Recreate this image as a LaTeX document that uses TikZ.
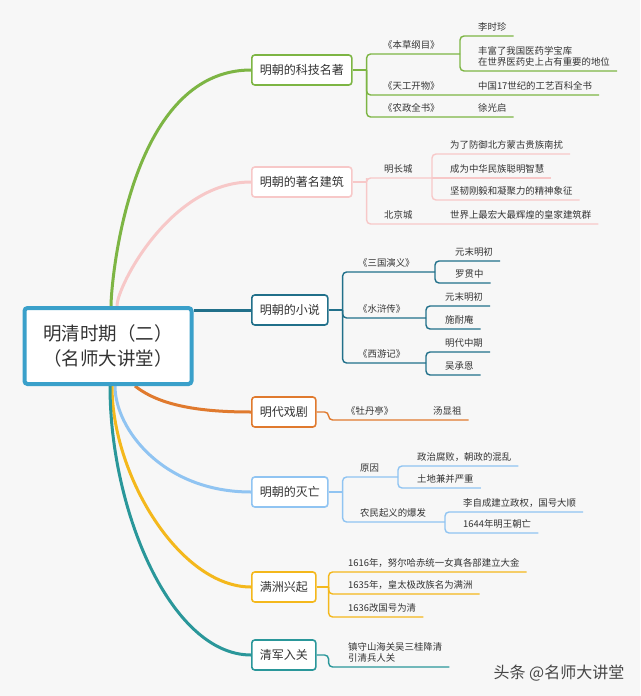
\documentclass[tikz,border=0pt]{standalone}
\usepackage{fontspec}
\setmainfont{Noto Sans CJK SC}
\usetikzlibrary{backgrounds}

\definecolor{bgc}{HTML}{F7F7F7}
\definecolor{txt}{HTML}{333333}
\definecolor{rootc}{HTML}{3AA0CA}
\definecolor{cgreen}{HTML}{7DB544}
\definecolor{cpink}{HTML}{F7C8C8}
\definecolor{cteal}{HTML}{21708A}
\definecolor{corange}{HTML}{E07A2E}
\definecolor{cblue}{HTML}{90C4F2}
\definecolor{cyellow}{HTML}{F4B81C}
\definecolor{ccyan}{HTML}{2A979A}

\begin{document}
\begin{tikzpicture}[
    x=1pt, y=-1pt,
    every node/.style={text=txt},
    root/.style={draw=rootc, line width=4pt, fill=white, rounded corners=3pt, align=center, minimum width=167pt, minimum height=76pt, font=\fontsize{18.5}{25}\selectfont},
    topic/.style={draw=#1, line width=1.6pt, fill=white, rounded corners=3pt, anchor=west, inner xsep=8pt, minimum height=30pt, font=\fontsize{12}{14}\selectfont},
    leaf/.style={anchor=south west, inner xsep=7pt, inner ysep=5pt, text depth=0pt, align=left, font=\fontsize{9.4}{11.5}\selectfont},
    branch/.style={draw=#1, line width=3pt},
    link/.style={draw=#1, line width=1.4pt, rounded corners=4pt}
  ]
    \node[root] (root) at (108,346) {明清时期（二）\\（名师大讲堂）};

    \node[topic=cgreen] (n1) at (251,70) {明朝的科技名著};
    \node[topic=cpink] (n2) at (251,182) {明朝的著名建筑};
    \node[topic=cteal] (n3) at (251,310) {明朝的小说};
    \node[topic=corange] (n4) at (251,412) {明代戏剧};
    \node[topic=cblue] (n5) at (251,492) {明朝的灭亡};
    \node[topic=cyellow] (n6) at (251,587) {满洲兴起};
    \node[topic=ccyan] (n7) at (251,655) {清军入关};

    % science books
    \coordinate (j1) at ([xshift=14pt]n1.east);
    \coordinate (k1) at (460,54);
    \node[leaf] (bc) at (376,54) {《本草纲目》};
    \node[leaf] (lsz) at (471,36) {李时珍};
    \node[leaf] (fz) at (471,71) {丰富了我国医药学宝库\\在世界医药史上占有重要的地位};
    \node[leaf] (tg) at (376,95) {《天工开物》};
    \node[leaf] (tgc) at (471,95) {中国17世纪的工艺百科全书};
    \node[leaf] (nz) at (376,117) {《农政全书》};
    \node[leaf] (xgq) at (471,117) {徐光启};

    % buildings
    \coordinate (j2) at ([xshift=14pt]n2.east);
    \coordinate (k2) at (432,178);
    \node[leaf] (mcc) at (377,178) {明长城};
    \node[leaf] (fy) at (443,154) {为了防御北方蒙古贵族南扰};
    \node[leaf] (cw) at (443,178) {成为中华民族聪明智慧};
    \node[leaf] (jr) at (443,200) {坚韧刚毅和凝聚力的精神象征};
    \node[leaf] (bjc) at (377,224) {北京城};
    \node[leaf] (hj) at (443,224) {世界上最宏大最辉煌的皇家建筑群};

    % novels
    \coordinate (j3) at ([xshift=14pt]n3.east);
    \coordinate (k3a) at (435,272);
    \coordinate (k3b) at (426,318);
    \coordinate (k3c) at (426,363);
    \node[leaf] (sg) at (351,272) {《三国演义》};
    \node[leaf] (ym1) at (448,261) {元末明初};
    \node[leaf] (lgz) at (448,283) {罗贯中};
    \node[leaf] (sh) at (351,318) {《水浒传》};
    \node[leaf] (ym2) at (438,306) {元末明初};
    \node[leaf] (sna) at (438,329) {施耐庵};
    \node[leaf] (xy) at (351,363) {《西游记》};
    \node[leaf] (mz) at (438,352) {明代中期};
    \node[leaf] (wce) at (438,375) {吴承恩};

    % drama
    \coordinate (j4) at ([xshift=12pt]n4.east);
    \node[leaf] (mdt) at (339,420) {《牡丹亭》};
    \node[leaf] (txz) at (426,420) {汤显祖};

    % fall
    \coordinate (j5) at ([xshift=14pt]n5.east);
    \coordinate (k5a) at (398,477);
    \coordinate (k5b) at (445,522);
    \node[leaf] (yy) at (353,477) {原因};
    \node[leaf] (zz) at (410,466) {政治腐败，朝政的混乱};
    \node[leaf] (td) at (410,488) {土地兼并严重};
    \node[leaf] (nm) at (353,522) {农民起义的爆发};
    \node[leaf] (lzc) at (456,512) {李自成建立政权，国号大顺};
    \node[leaf] (mw) at (456,533) {1644年明王朝亡};

    % manchu
    \coordinate (j6) at ([xshift=12pt]n6.east);
    \node[leaf] (e1) at (341,572) {1616年，努尔哈赤统一女真各部建立大金};
    \node[leaf] (e2) at (341,594) {1635年，皇太极改族名为满洲};
    \node[leaf] (e3) at (341,617) {1636改国号为清};

    % qing army
    \coordinate (j7) at ([xshift=12pt]n7.east);
    \node[leaf] (qj) at (341,667) {镇守山海关吴三桂降清\\引清兵人关};

    \node[font=\fontsize{16}{18}\selectfont, text=black!72] (wm) at (559,673) {头条 @名师大讲堂};

    \begin{scope}[on background layer]
      \fill[bgc] (0,0) rectangle (640,696);
      \draw[branch=cgreen] ([xshift=3pt]root.north) .. controls +(0,-21) and +(-123,0) .. (n1.west);
      \draw[branch=cpink] ([xshift=9pt]root.north) .. controls +(0,-20) and +(-80,0) .. (n2.west);
      \draw[branch=cteal] (root.east |- n3.west) -- (n3.west);
      \draw[branch=corange] ([xshift=27pt]root.south) .. controls +(25,20) and +(-50,0) .. (n4.west);
      \draw[branch=cblue] ([xshift=7pt]root.south) .. controls +(0,43) and +(-88,0) .. (n5.west);
      \draw[branch=cyellow] ([xshift=4pt]root.south) .. controls +(0,90) and +(-71,0) .. (n6.west);
      \draw[branch=ccyan] ([xshift=2pt]root.south) .. controls +(0,125) and +(-80,0) .. (n7.west);
    \end{scope}

    \draw[link=cgreen] (n1.east) -- (j1);
    \draw[link=cgreen] (k1) -| (j1) |- (xgq.south east);
    \draw[link=cgreen] (j1) |- (tgc.south east);
    \draw[link=cgreen] (lsz.south east) -| (k1) |- (fz.south east);

    \draw[link=cpink] (n2.east) -- (j2);
    \draw[link=cpink] (k2) -| (j2) |- (hj.south east);
    \draw[link=cpink] (fy.south east) -| (k2) |- (jr.south east);
    \draw[link=cpink] (k2) -- (cw.south east);

    \draw[link=cteal] (n3.east) -- (j3);
    \draw[link=cteal] (k3a) -| (j3) |- (k3c);
    \draw[link=cteal] (j3) |- (k3b);
    \draw[link=cteal] (ym1.south east) -| (k3a) |- (lgz.south east);
    \draw[link=cteal] (ym2.south east) -| (k3b) |- (sna.south east);
    \draw[link=cteal] (mz.south east) -| (k3c) |- (wce.south east);

    \draw[link=corange] (n4.east) -- (j4) |- (txz.south east);

    \draw[link=cblue] (n5.east) -- (j5);
    \draw[link=cblue] (k5a) -| (j5) |- (k5b);
    \draw[link=cblue] (zz.south east) -| (k5a) |- (td.south east);
    \draw[link=cblue] (lzc.south east) -| (k5b) |- (mw.south east);

    \draw[link=cyellow] (n6.east) -- (j6);
    \draw[link=cyellow] (e1.south east) -| (j6) |- (e3.south east);
    \draw[link=cyellow] (j6) |- (e2.south east);

    \draw[link=ccyan] (n7.east) -- (j7) |- (qj.south east);
  \end{tikzpicture}
\end{document}
